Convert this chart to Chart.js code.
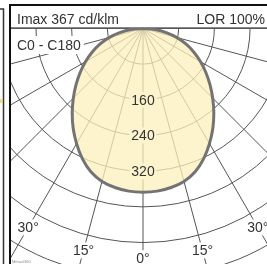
<!DOCTYPE html>
<html>
<head>
<meta charset="utf-8">
<script src="https://cdn.jsdelivr.net/npm/chart.js@4.4.1/dist/chart.umd.min.js"></script>
<style>
  html, body { margin: 0; padding: 0; background: #fff; }
  canvas { display: block; }
</style>
</head>
<body>
<canvas id="ldcCanvas" width="267" height="264"></canvas>
<script>
// gamma angles (deg from nadir) and intensities in cd/klm
const gammaAngles = [0, 5, 10, 15, 20, 25, 30, 35, 40, 45, 50, 55, 60, 65, 70, 75, 80, 85, 90];
const c0Values = [367, 366, 362, 355, 342, 322, 298, 273, 247, 221, 196, 172, 149, 126, 103, 79, 53, 27, 0];
const c180Values = [367, 366, 362, 355, 342, 322, 298, 273, 247, 221, 196, 172, 149, 126, 103, 79, 53, 27, 0];

const ringValues = [80, 160, 240, 320, 400, 480, 560];
const ringLabels = [160, 240, 320];
const rayAngles = [-90, -75, -60, -45, -30, -15, 0, 15, 30, 45, 60, 75, 90];
const angleTicks = [-30, -15, 0, 15, 30];
const angleLabelRadius = 515;

const headerLeft = "Imax 367 cd/klm";
const headerRight = "LOR 100%";
const planeLabel = "C0 - C180";

const FONT = "14px 'Liberation Sans', Arial, sans-serif";
const TEXT = "#333";

const rad = (d) => (d * Math.PI) / 180;

// C180 on the left (90 -> 0), C0 on the right (0 -> 90)
const curve = [];
for (let i = gammaAngles.length - 1; i >= 0; i--) {
  const g = rad(gammaAngles[i]);
  curve.push({ x: -c180Values[i] * Math.sin(g), y: -c180Values[i] * Math.cos(g) });
}
for (let i = 1; i < gammaAngles.length; i++) {
  const g = rad(gammaAngles[i]);
  curve.push({ x: c0Values[i] * Math.sin(g), y: -c0Values[i] * Math.cos(g) });
}

const polarPlugin = {
  id: "polar_grid",
  beforeDatasetsDraw: (chart) => {
    const { ctx, chartArea: a, scales: { x, y } } = chart;
    const ox = x.getPixelForValue(0);
    const oy = y.getPixelForValue(0);
    const k = x.getPixelForValue(1) - ox;
    ctx.save();
    ctx.beginPath();
    ctx.rect(a.left, a.top, a.right - a.left, a.bottom - a.top);
    ctx.clip();
    ctx.strokeStyle = "#555";
    ctx.lineWidth = 1;
    ringValues.forEach((v) => {
      ctx.beginPath();
      ctx.arc(ox, oy, v * k, 0, Math.PI);
      ctx.stroke();
    });
    rayAngles.forEach((d) => {
      const t = rad(d);
      ctx.beginPath();
      ctx.moveTo(ox, oy);
      ctx.lineTo(ox + 700 * k * Math.sin(t), oy + 700 * k * Math.cos(t));
      ctx.stroke();
    });
    ctx.restore();
  },
  afterDatasetsDraw: (chart) => {
    const { ctx, scales: { x, y } } = chart;
    const ox = x.getPixelForValue(0);
    ctx.save();
    ctx.font = FONT;
    ctx.textAlign = "center";
    ctx.textBaseline = "middle";
    // intensity labels on the 0 deg ray
    ringLabels.forEach((v) => {
      const py = y.getPixelForValue(-v);
      const w = ctx.measureText(String(v)).width;
      ctx.fillStyle = "#fdf4ce";
      ctx.fillRect(ox - w / 2 - 2, py - 8, w + 4, 16);
      ctx.fillStyle = TEXT;
      ctx.fillText(String(v), ox, py + 1);
    });
    // angle labels
    angleTicks.forEach((d) => {
      const t = rad(d);
      const px = x.getPixelForValue(angleLabelRadius * Math.sin(t));
      const py = y.getPixelForValue(-angleLabelRadius * Math.cos(t));
      const s = Math.abs(d) + "\u00b0";
      const w = ctx.measureText(s).width;
      ctx.fillStyle = "#fff";
      ctx.fillRect(px - w / 2 - 2, py - 8, w + 4, 16);
      ctx.fillStyle = TEXT;
      ctx.fillText(s, px, py + 1);
    });
    ctx.restore();
  },
  afterDraw: (chart) => {
    const { ctx, chartArea: a, width, height } = chart;
    ctx.save();
    // header strip
    ctx.fillStyle = "#fff";
    ctx.fillRect(a.left, a.top, a.right - a.left, 21);
    ctx.strokeStyle = "#888";
    ctx.lineWidth = 1;
    ctx.beginPath();
    ctx.moveTo(a.left, a.top + 21.5);
    ctx.lineTo(a.right, a.top + 21.5);
    ctx.stroke();
    ctx.font = FONT;
    ctx.fillStyle = TEXT;
    ctx.textBaseline = "alphabetic";
    ctx.textAlign = "left";
    ctx.fillText(headerLeft, a.left + 6, a.top + 18);
    ctx.textAlign = "right";
    ctx.fillText(headerRight, a.right - 2, a.top + 18);
    // plane label
    ctx.textAlign = "left";
    const w = ctx.measureText(planeLabel).width;
    ctx.fillStyle = "#fff";
    ctx.fillRect(a.left + 4, a.top + 30, w + 5, 18);
    ctx.fillStyle = TEXT;
    ctx.fillText(planeLabel, a.left + 6, a.top + 44);
    // frame
    ctx.strokeStyle = "#111";
    ctx.lineWidth = 2;
    ctx.beginPath();
    ctx.moveTo(a.left - 1, height);
    ctx.lineTo(a.left - 1, a.top - 1);
    ctx.lineTo(width, a.top - 1);
    ctx.stroke();
    // neighbouring panel edge
    ctx.strokeStyle = "#333";
    ctx.lineWidth = 1.5;
    ctx.beginPath();
    ctx.moveTo(0, 9);
    ctx.lineTo(3.5, 9);
    ctx.lineTo(3.5, height);
    ctx.stroke();
    ctx.fillStyle = "#f3e27a";
    ctx.fillRect(0, 99, 2, 4);
    ctx.font = "4px 'Liberation Sans', Arial, sans-serif";
    ctx.fillStyle = "#888";
    ctx.fillText("Mmax/360", a.left + 1, height - 1);
    ctx.restore();
  },
};

const config = {
  type: "scatter",
  data: {
    datasets: [
      {
        label: planeLabel,
        data: curve,
        showLine: true,
        fill: "shape",
        tension: 0.3,
        pointRadius: 0,
        borderColor: "#737373",
        borderWidth: 3,
        backgroundColor: "rgba(252, 240, 188, 0.75)",
      },
    ],
  },
  options: {
    responsive: false,
    animation: false,
    layout: { padding: { left: 11, top: 6, right: 0, bottom: 0 } },
    plugins: {
      legend: { display: false },
      tooltip: { enabled: false },
    },
    scales: {
      x: { type: "linear", min: -296, max: 278, display: false },
      y: { type: "linear", min: -528, max: 50.4, display: false },
    },
  },
  plugins: [polarPlugin],
};

const canvas = document.getElementById("ldcCanvas");
if (canvas) {
  new Chart(canvas.getContext("2d"), config);
} else {
  console.error("canvas not found");
}
</script>
</body>
</html>
